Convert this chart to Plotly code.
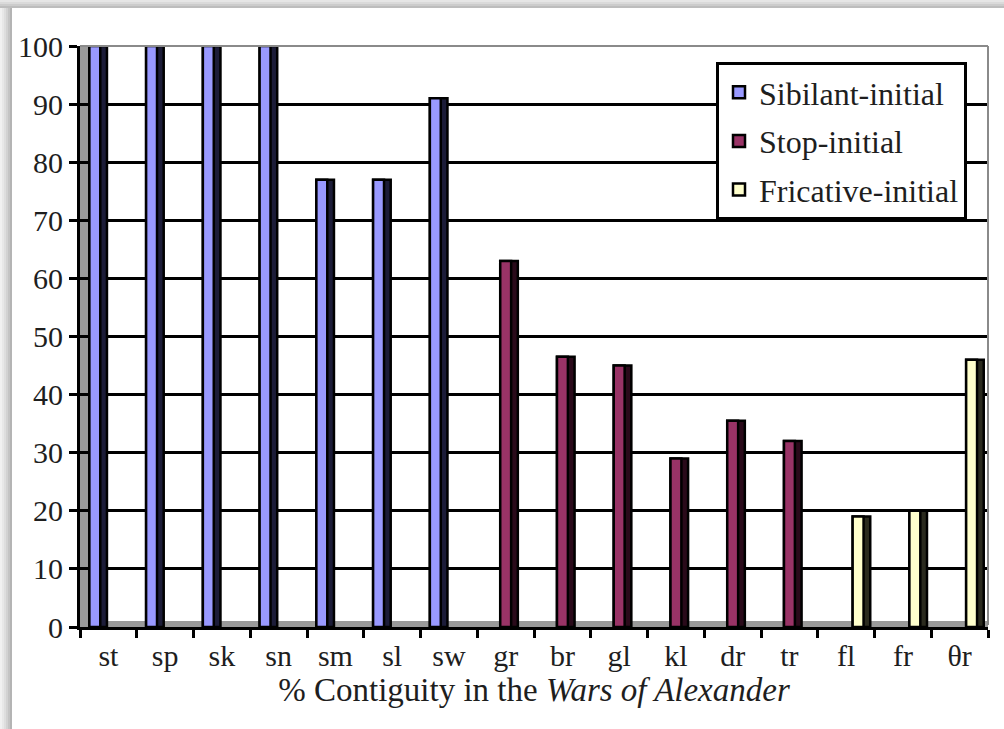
import plotly.graph_objects as go

categories = ["st", "sp", "sk", "sn", "sm", "sl", "sw", "gr", "br", "gl", "kl", "dr", "tr", "fl", "fr", "θr"]
sibilant = [100, 100, 100, 100, 77, 77, 91, None, None, None, None, None, None, None, None, None]
stop = [None, None, None, None, None, None, None, 63, 46.5, 45, 29, 35.5, 32, None, None, None]
fricative = [None, None, None, None, None, None, None, None, None, None, None, None, None, 19, 20, 46]
y_ticks = [0, 10, 20, 30, 40, 50, 60, 70, 80, 90, 100]

series = [
    ("Sibilant-initial", sibilant, "#9999FF", "#1c1c38", -0.18),
    ("Stop-initial", stop, "#993366", "#2a0a1a", 0.06),
    ("Fricative-initial", fricative, "#FFFFCC", "#2a2a1e", 0.27),
]

W, H = 1004, 729
L, R, T, B = 80, 988, 46, 627


def px(x):
    return (x - L) / (R - L)


def py(y):
    return (B - y) / (B - T)


fig = go.Figure()
bw = 0.31
for i, (name, vals, fill, side, c) in enumerate(series):
    fig.add_trace(go.Bar(
        x=categories, y=vals, offset=c - bw / 2, width=bw,
        marker=dict(color=side, line=dict(color="black", width=2.5)),
        showlegend=False, hoverinfo="skip",
    ))
    fig.add_trace(go.Bar(
        x=categories, y=vals, offset=c - bw / 2, width=bw * 0.62,
        name=name, legendgroup=name,
        marker=dict(color=fill, line=dict(color="black", width=2.5)),
    ))

shapes = []
# left gray wall and floor of the 3D plot area
shapes.append(dict(type="rect", xref="paper", yref="paper", x0=0, x1=px(88), y0=0, y1=1,
                   fillcolor="#9a9a9a", line=dict(width=0), layer="below"))
shapes.append(dict(type="rect", xref="paper", yref="paper", x0=0, x1=1, y0=0, y1=py(621),
                   fillcolor="#9a9a9a", line=dict(width=0), layer="below"))
# gray outline of plot area (top and right)
shapes.append(dict(type="line", xref="paper", yref="paper", x0=px(80), x1=1, y0=1, y1=1,
                   line=dict(color="#8a8a8a", width=2)))
shapes.append(dict(type="line", xref="paper", yref="paper", x0=1, x1=1, y0=py(625), y1=1,
                   line=dict(color="#8a8a8a", width=2)))
# outer frame shadow (left and top)
greys = ["#b4b4b4", "#c4c4c4", "#d2d2d2", "#dedede", "#e8e8e8", "#f1f1f1"]
for k, g in enumerate(greys):
    shapes.append(dict(type="rect", xref="paper", yref="paper",
                       x0=px(0), x1=px(12 - 2 * k),
                       y0=py(H), y1=py(0), fillcolor=g, line=dict(width=0), layer="below"))
for k, g in enumerate(["#bdbdbd", "#cccccc", "#dadada", "#e6e6e6"]):
    shapes.append(dict(type="rect", xref="paper", yref="paper",
                       x0=px(0), x1=px(W), y0=py(8 - 2 * k), y1=py(0),
                       fillcolor=g, line=dict(width=0), layer="below"))

serif = "Liberation Serif"
txt = "#1e1e1e"

fig.update_layout(
    width=W, height=H,
    margin=dict(l=L, r=W - R, t=T, b=H - B),
    paper_bgcolor="white", plot_bgcolor="white",
    barmode="overlay",
    font=dict(family=serif, size=30, color=txt),
    shapes=shapes,
    showlegend=True,
    legend=dict(
        x=px(716), y=py(62), xanchor="left", yanchor="top",
        bgcolor="white", bordercolor="black", borderwidth=3,
        font=dict(family=serif, size=32, color=txt),
        tracegroupgap=4, itemwidth=30,
    ),
    xaxis=dict(
        type="category", categoryorder="array", categoryarray=categories,
        range=[-0.5, len(categories) - 0.5],
        showline=True, linecolor="black", linewidth=3,
        ticks="outside", tickson="boundaries", ticklen=8, tickwidth=3, tickcolor="black",
        showgrid=False,
        tickfont=dict(family=serif, size=30, color=txt),
        title=dict(text="% Contiguity in the <i>Wars of Alexander</i>",
                   font=dict(family=serif, size=33, color=txt), standoff=2),
    ),
    yaxis=dict(
        range=[0, 100], tickvals=y_ticks,
        showline=True, linecolor="black", linewidth=3,
        ticks="outside", ticklen=8, tickwidth=3, tickcolor="black",
        showgrid=True, gridcolor="black", gridwidth=3,
        zeroline=False,
        tickfont=dict(family=serif, size=30, color=txt),
    ),
)

fig.write_html("out.html", config={"displayModeBar": False},
               post_script="document.body.style.margin='0';document.body.style.padding='0';")
